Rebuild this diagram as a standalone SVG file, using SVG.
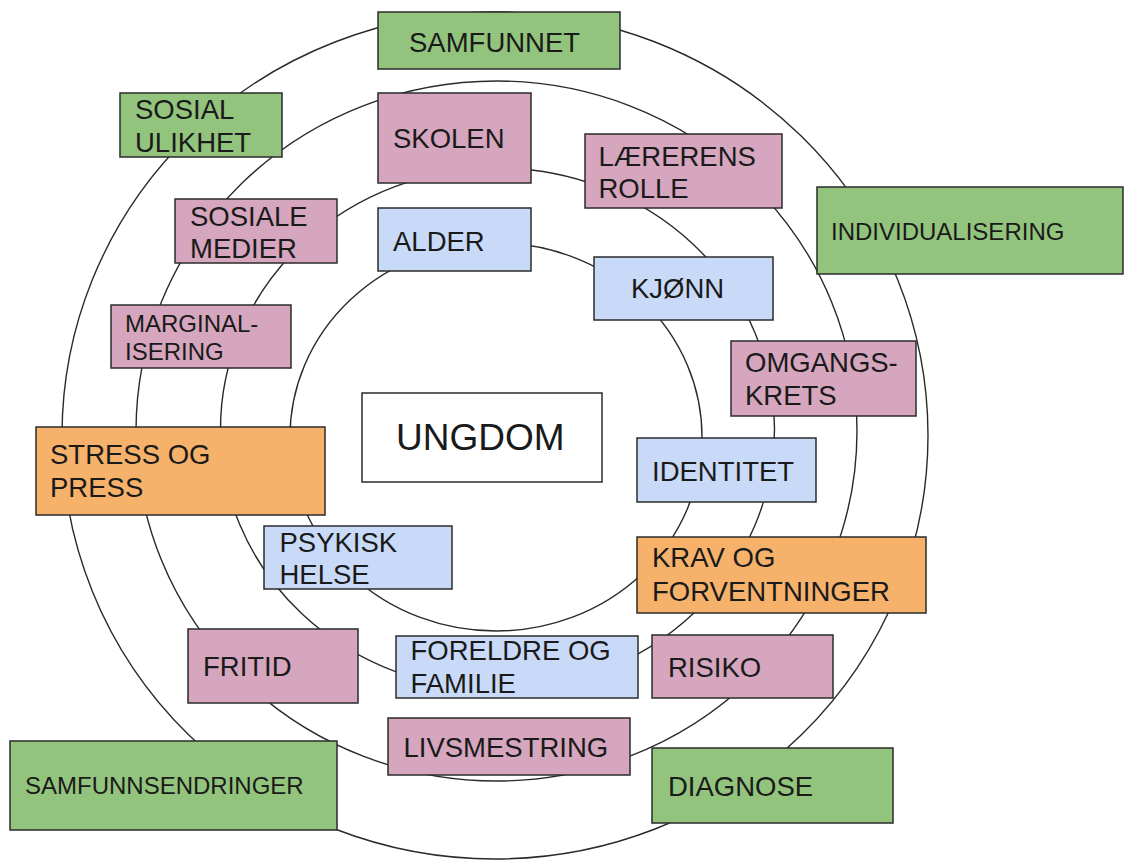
<svg xmlns="http://www.w3.org/2000/svg" width="1124" height="860" viewBox="0 0 1124 860">
<style>
.bg{fill:#ffffff}
.ring{fill:none;stroke:#2a2a2a;stroke-width:1.4}
.box{stroke:#2b2b2b;stroke-width:1.5}
.g{fill:#93c47d}
.p{fill:#d5a6bd}
.b{fill:#c9daf8}
.o{fill:#f6b26b}
.w{fill:#ffffff}
text{font-family:"Liberation Sans",Arial,sans-serif;font-size:27.5px;fill:#1a1a1a}
.s{font-size:24px}
.big{font-size:37px}
</style>
<rect class="bg" x="0" y="0" width="1124" height="860"/>
<g id="connectors">
<ellipse class="ring" cx="495" cy="435.5" rx="433" ry="423.5"/>
<ellipse class="ring" cx="496.5" cy="431" rx="360.5" ry="350"/>
<ellipse class="ring" cx="497.5" cy="429" rx="277" ry="261"/>
<ellipse class="ring" cx="496" cy="437" rx="206" ry="194"/>
</g>
<g id="samfunnet"><rect class="box g" x="378" y="12" width="242" height="57"/><text x="409" y="51.5">SAMFUNNET</text></g>
<g id="sosial-ulikhet"><rect class="box g" x="120" y="93" width="162" height="64"/><text x="135" y="119">SOSIAL</text><text x="135" y="151.5">ULIKHET</text></g>
<g id="skolen"><rect class="box p" x="378" y="93" width="153" height="90"/><text x="393" y="148">SKOLEN</text></g>
<g id="laererens-rolle"><rect class="box p" x="585" y="134" width="197" height="74"/><text x="598.5" y="165.5">LÆRERENS</text><text x="598.5" y="198">ROLLE</text></g>
<g id="individualisering"><rect class="box g" x="817" y="187" width="306" height="87"/><text class="s" x="831" y="240">INDIVIDUALISERING</text></g>
<g id="sosiale-medier"><rect class="box p" x="175" y="199" width="162" height="64"/><text x="190" y="225.5">SOSIALE</text><text x="190" y="257.5">MEDIER</text></g>
<g id="alder"><rect class="box b" x="378" y="208" width="153" height="63"/><text x="393" y="250.5">ALDER</text></g>
<g id="kjonn"><rect class="box b" x="594" y="257" width="179" height="63"/><text x="631" y="298">KJØNN</text></g>
<g id="marginalisering"><rect class="box p" x="111" y="305" width="180" height="63"/><text class="s" x="125" y="332">MARGINAL-</text><text class="s" x="125" y="360">ISERING</text></g>
<g id="omgangskrets"><rect class="box p" x="731" y="341" width="185" height="75"/><text x="745" y="371.5">OMGANGS-</text><text x="745" y="405">KRETS</text></g>
<g id="ungdom"><rect class="box w" x="362" y="393" width="240" height="89"/><text class="big" x="396" y="450">UNGDOM</text></g>
<g id="stress-og-press"><rect class="box o" x="36" y="427" width="289" height="88"/><text x="50" y="464">STRESS OG</text><text x="50" y="496.5">PRESS</text></g>
<g id="identitet"><rect class="box b" x="637" y="438" width="179" height="64"/><text x="652" y="480.5">IDENTITET</text></g>
<g id="psykisk-helse"><rect class="box b" x="264" y="526" width="188" height="63"/><text x="279.5" y="551.5">PSYKISK</text><text x="279.5" y="584">HELSE</text></g>
<g id="krav-og-forventninger"><rect class="box o" x="637" y="537" width="289" height="76"/><text x="652" y="567">KRAV OG</text><text x="652" y="600.5">FORVENTNINGER</text></g>
<g id="fritid"><rect class="box p" x="188" y="629" width="170" height="74"/><text x="203" y="676">FRITID</text></g>
<g id="foreldre-og-familie"><rect class="box b" x="396" y="636" width="242" height="62"/><text x="410.5" y="660">FORELDRE OG</text><text x="410.5" y="693">FAMILIE</text></g>
<g id="risiko"><rect class="box p" x="652" y="635" width="181" height="63"/><text x="668" y="676.5">RISIKO</text></g>
<g id="livsmestring"><rect class="box p" x="388" y="718" width="242" height="57"/><text x="403.5" y="756.5">LIVSMESTRING</text></g>
<g id="samfunnsendringer"><rect class="box g" x="10" y="741" width="327" height="89"/><text class="s" x="25" y="794">SAMFUNNSENDRINGER</text></g>
<g id="diagnose"><rect class="box g" x="652" y="748" width="241" height="75"/><text x="668" y="796">DIAGNOSE</text></g>
</svg>
